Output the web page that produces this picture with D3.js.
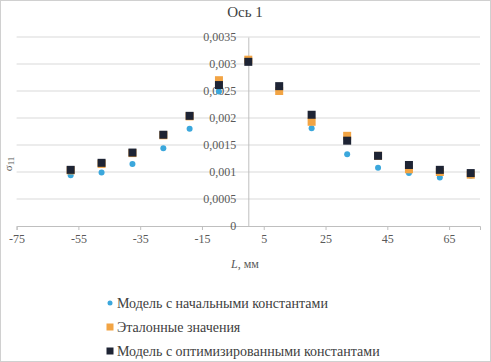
<!DOCTYPE html>
<html><head><meta charset="utf-8">
<script src="https://cdn.jsdelivr.net/npm/d3@7"></script>
<style>body{margin:0;background:#fff}svg{display:block}svg text{font-family:"Liberation Serif","Times New Roman","DejaVu Serif",serif}</style>
</head><body>
<svg id="c" width="491" height="362"></svg>
<script>
const zPositions = [-57.5, -47.5, -37.5, -27.5, -19, -9.5, 0, 10, 20.5, 32, 42, 52, 62, 72];
const initialModel = [0.00094, 0.00099, 0.00115, 0.00144, 0.00180, 0.00249, 0.00306, 0.00251, 0.00181, 0.00133, 0.00108, 0.00098, 0.00090, 0.00093];
const referenceValues = [0.00103, 0.00115, 0.00135, 0.00168, 0.00203, 0.00270, 0.00308, 0.00250, 0.00193, 0.00167, 0.00130, 0.00105, 0.00100, 0.00095];
const optimizedModel = [0.00104, 0.00117, 0.00136, 0.00169, 0.00204, 0.00261, 0.00304, 0.00259, 0.00206, 0.00158, 0.00130, 0.00113, 0.00104, 0.00098];
const xTicks = [-75, -55, -35, -15, 5, 25, 45, 65];
const yTicks = [0, 0.0005, 0.001, 0.0015, 0.002, 0.0025, 0.003, 0.0035];
const seriesNames = ["Модель с начальными константами", "Эталонные значения", "Модель с оптимизированными константами"];
const seriesColors = ["#3ba7dc", "#f2a444", "#1e2434"];
const titleText = "Ось 1";

const svg = d3.select("#c");
const x = d3.scaleLinear().domain([-75, 75]).range([16.6, 480]);
const y = d3.scaleLinear().domain([0, 0.0035]).range([226, 37]);
const fmt = d => d === 0 ? "0" : String(+d.toFixed(4)).replace(".", ",");

svg.append("rect").attr("x",0.5).attr("y",0.5).attr("width",490).attr("height",361)
  .attr("fill","#fff").attr("stroke","#d0d0d0");

svg.append("g").selectAll("line").data(yTicks.filter(d=>d>0)).join("line")
  .attr("x1", x(-75)).attr("x2", x(75)).attr("y1", d=>y(d)).attr("y2", d=>y(d))
  .attr("stroke", "#d9d9d9").attr("stroke-width", 1);

const xAxis = svg.append("g").attr("transform", `translate(0,${y(0)})`)
  .call(d3.axisBottom(x).tickValues(xTicks).tickSize(4).tickFormat(d=>d));
xAxis.attr("font-family", null);
xAxis.select(".domain").attr("stroke", "#bfbfbf");
xAxis.selectAll(".tick line").attr("stroke", "#bfbfbf");
xAxis.selectAll("text").attr("font-size", 12).attr("fill", "#595959").attr("dy","0.85em");

const yAxis = svg.append("g").attr("transform", `translate(${x(0)},0)`)
  .call(d3.axisLeft(y).tickValues(yTicks).tickSize(0).tickPadding(12).tickFormat(fmt));
yAxis.attr("font-family", null);
yAxis.select(".domain").attr("stroke", "#bfbfbf");
yAxis.selectAll("text").attr("font-size", 12).attr("fill", "#595959");

const data = [initialModel, referenceValues, optimizedModel];
[0,1,2].forEach(si => {
  const g = svg.append("g");
  const pts = zPositions.map((z,i)=>({z, v: data[si][i]}));
  if (si === 0) {
    g.selectAll("circle").data(pts).join("circle")
      .attr("cx", d=>x(d.z)).attr("cy", d=>y(d.v)).attr("r", 3)
      .attr("fill", seriesColors[si]);
  } else {
    g.selectAll("rect").data(pts).join("rect")
      .attr("x", d=>x(d.z)-4).attr("y", d=>y(d.v)-4)
      .attr("width", 8).attr("height", 8)
      .attr("fill", seriesColors[si]);
  }
});

svg.append("text").attr("x", 245).attr("y", 17).attr("text-anchor","middle")
  .attr("font-size", 15).attr("fill","#404040").text(titleText);

svg.append("text").attr("transform","translate(12,164) rotate(-90)").attr("text-anchor","middle")
  .attr("font-size", 11).attr("fill","#595959")
  .call(t=>{t.append("tspan").text("σ"); t.append("tspan").attr("font-size",9).attr("dy",2).text("11");});

svg.append("text").attr("x", 245).attr("y", 268).attr("text-anchor","middle")
  .attr("font-size", 12).attr("fill","#595959")
  .call(t=>{t.append("tspan").attr("font-style","italic").text("L"); t.append("tspan").text(", мм");});

const legY = [303, 327, 351];
seriesNames.forEach((n,i)=>{
  const g = svg.append("g").attr("transform", `translate(110,${legY[i]})`);
  if (i===0) g.append("circle").attr("r",2.5).attr("fill",seriesColors[i]);
  else g.append("rect").attr("x",-3.5).attr("y",-3.5).attr("width",7).attr("height",7).attr("fill",seriesColors[i]);
  g.append("text").attr("x",7).attr("dy","0.35em").attr("font-size", 14)
    .attr("fill","#404040").text(n);
});
</script>
</body></html>
